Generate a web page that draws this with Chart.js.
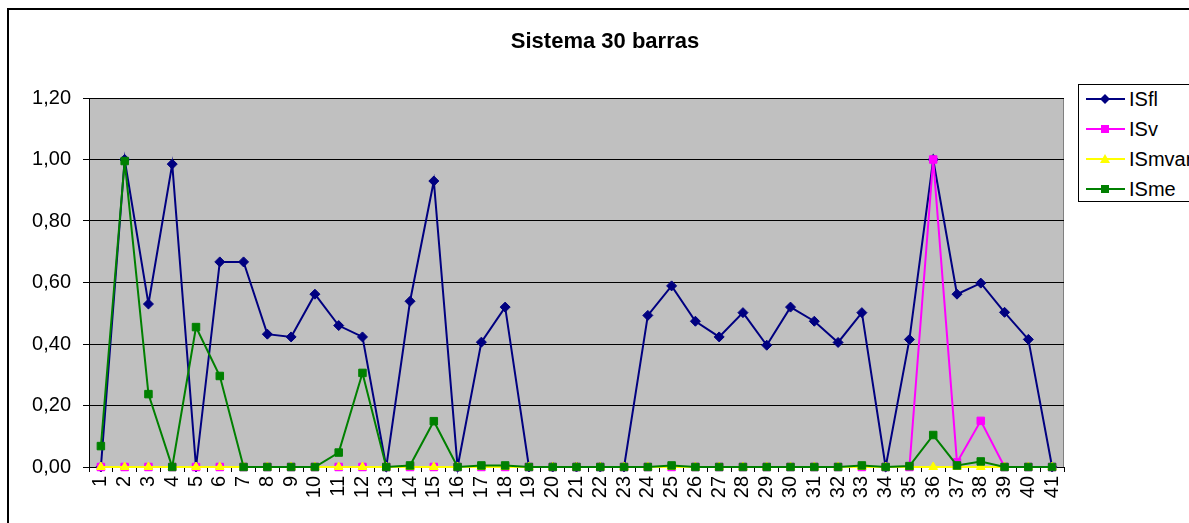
<!DOCTYPE html>
<html>
<head>
<meta charset="utf-8">
<script src="https://cdn.jsdelivr.net/npm/chart.js@4.4.1/dist/chart.umd.min.js"></script>
<style>
    body { margin: 0; background: #fff; overflow: hidden; }
    #wrap { position: relative; width: 1189px; height: 523px; overflow: hidden; }
    #frame { position: absolute; left: 7px; top: 8px; width: 1300px; height: 700px; border: 2px solid #000; }
    #usageChart { position: absolute; left: 0; top: 0; }
    #legend { position: absolute; left: 1078px; top: 84px; width: 200px; height: 116px;
              border: 1px solid #000; background: #fff;
              font-family: "Liberation Sans", Arial, sans-serif; font-size: 20px; color: #000; }
    .item { position: absolute; left: 0; height: 20px; width: 200px; }
    .item svg { position: absolute; left: 0; top: 0; }
    .item span { position: absolute; left: 50px; top: -2px; line-height: 24px; }
</style>
</head>
<body>
<div id="wrap">
    <div id="frame"></div>
    <canvas id="usageChart" width="1189" height="523"></canvas>
    <div id="legend"></div>
</div>
<script>
const categories = ["1","2","3","4","5","6","7","8","9","10","11","12","13","14","15","16","17","18","19","20",
    "21","22","23","24","25","26","27","28","29","30","31","32","33","34","35","36","37","38","39","40","41"];

const yTickValues = [0, 0.2, 0.4, 0.6, 0.8, 1.0, 1.2];

const seriesNames = ["ISfl", "ISv", "ISmvar", "ISme"];

const isfl = [0, 1.00, 0.53, 0.985, 0, 0.667, 0.667, 0.432, 0.423, 0.562, 0.46, 0.423, 0, 0.539, 0.93, 0, 0.406, 0.52, 0, 0,
    0, 0, 0, 0.493, 0.589, 0.474, 0.423, 0.502, 0.396, 0.52, 0.474, 0.405, 0.502, 0, 0.415, 1.00, 0.562, 0.598, 0.503, 0.415, 0];

const isv = [0, 0, 0, 0, 0, 0, 0, 0, 0, 0, 0, 0, 0, 0, 0, 0, 0, 0, 0, 0,
    0, 0, 0, 0, 0, 0, 0, 0, 0, 0, 0, 0, 0, 0, 0, 1.00, 0.015, 0.15, 0, 0, 0];

const ismvar = [0, 0, 0, 0, 0, 0, 0, 0, 0, 0, 0, 0, 0, 0, 0, 0, 0, 0, 0, 0,
    0, 0, 0, 0, 0, 0, 0, 0, 0, 0, 0, 0, 0, 0, 0, 0, 0, 0, 0, 0, 0];

const isme = [0.068, 0.995, 0.237, 0, 0.455, 0.296, 0, 0, 0, 0, 0.047, 0.306, 0, 0.005, 0.149, 0, 0.005, 0.005, 0, 0,
    0, 0, 0, 0, 0.005, 0, 0, 0, 0, 0, 0, 0, 0.005, 0, 0.003, 0.104, 0.005, 0.018, 0, 0, 0];

const FONT = "'Liberation Sans', Arial, sans-serif";

// plot background and right border like the Excel plot area
const plotArea = {
    id: "plotArea",
    beforeDraw(chart) {
        const a = chart.chartArea, c = chart.ctx;
        c.save();
        c.fillStyle = "#C0C0C0";
        c.fillRect(a.left, a.top, a.right - a.left, a.bottom - a.top);
        c.strokeStyle = "#808080";
        c.lineWidth = 1;
        c.beginPath();
        c.moveTo(Math.round(a.right) - 0.5, a.top);
        c.lineTo(Math.round(a.right) - 0.5, a.bottom);
        c.stroke();
        c.restore();
    },
    afterDraw(chart) {
        const c = chart.ctx;
        c.save();
        c.fillStyle = "#000";
        c.font = "bold 22px " + FONT;
        c.textAlign = "center";
        c.textBaseline = "alphabetic";
        c.fillText("Sistema 30 barras", 605, 48);
        c.restore();
    }
};

function ds(label, data, color, style, radius, order) {
    return {
        label: label,
        data: data,
        borderColor: color,
        backgroundColor: color,
        borderWidth: 2,
        pointStyle: style,
        pointRadius: radius,
        pointHoverRadius: radius,
        pointBorderWidth: 1,
        tension: 0,
        clip: false,
        order: order
    };
}

document.addEventListener("DOMContentLoaded", () => {
    let ctx = document.getElementById("usageChart").getContext("2d");

    window.usageChart = new Chart(ctx, {
        type: "line",
        data: {
            labels: categories,
            datasets: [
                ds(seriesNames[0], isfl, "#000080", "rectRot", 5, 4),
                ds(seriesNames[1], isv, "#FF00FF", "rect", 5.3, 3),
                ds(seriesNames[2], ismvar, "#FFFF00", "triangle", 5, 2),
                ds(seriesNames[3], isme, "#008000", "rect", 5.3, 1)
            ]
        },
        options: {
            responsive: false,
            animation: false,
            devicePixelRatio: 1,
            layout: { padding: { top: 98, right: 125, bottom: 0, left: 0 } },
            plugins: {
                legend: { display: false },
                title: { display: false },
                tooltip: { enabled: false }
            },
            scales: {
                x: {
                    offset: true,
                    grid: { offset: true, drawOnChartArea: false, drawTicks: true, tickLength: 5, color: "#000" },
                    border: { display: true, color: "#000", width: 1 },
                    ticks: {
                        autoSkip: false, minRotation: 90, maxRotation: 90, padding: 4,
                        color: "#000", font: { family: FONT, size: 20 }
                    },
                    afterFit: (scale) => { scale.height = 56; }
                },
                y: {
                    min: 0,
                    max: 1.2,
                    afterBuildTicks: (scale) => { scale.ticks = yTickValues.map(v => ({ value: v })); },
                    grid: { color: "#000", lineWidth: 1, tickLength: 6 },
                    border: { display: true, color: "#000", width: 1 },
                    ticks: {
                        padding: 12, color: "#000", font: { family: FONT, size: 20 },
                        callback: (v) => Number(v).toFixed(2).replace(".", ",")
                    },
                    afterFit: (scale) => { scale.width = 89; }
                }
            }
        },
        plugins: [plotArea]
    });

    // legend box with line + marker samples
    const legend = document.getElementById("legend");
    const colors = ["#000080", "#FF00FF", "#FFFF00", "#008000"];
    const marks = [
        '<polygon points="26,5 31,10 26,15 21,10" />',
        '<rect x="22" y="6" width="8" height="8" />',
        '<polygon points="26,5 31,14 21,14" />',
        '<rect x="22" y="6" width="8" height="8" />'
    ];
    seriesNames.forEach((name, i) => {
        const d = document.createElement("div");
        d.className = "item";
        d.style.top = (4 + i * 30) + "px";
        d.innerHTML = '<svg width="50" height="20"><line x1="7" y1="10" x2="46" y2="10" stroke="' + colors[i] +
            '" stroke-width="2"/><g fill="' + colors[i] + '">' + marks[i] + '</g></svg><span>' + name + '</span>';
        legend.appendChild(d);
    });
});
</script>
</body>
</html>
